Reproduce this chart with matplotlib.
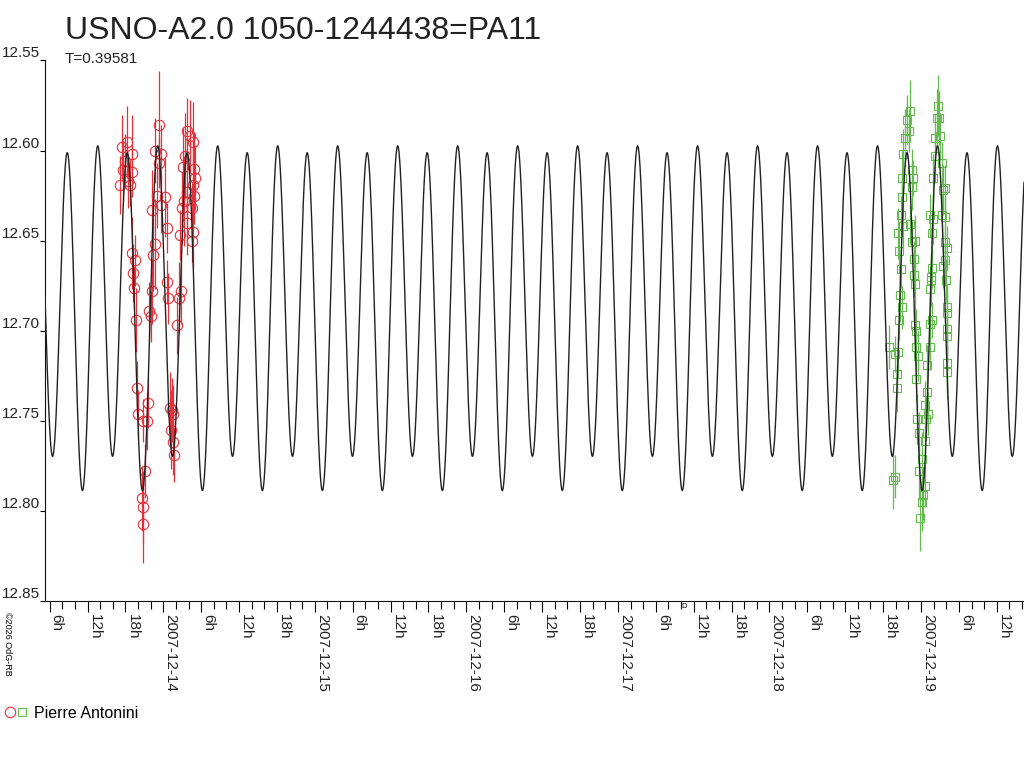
import datetime
import numpy as np
import matplotlib
matplotlib.use("Agg")
import matplotlib.pyplot as plt
import matplotlib.dates as mdates
from matplotlib.lines import Line2D
from matplotlib.legend_handler import HandlerTuple

plt.rcParams['font.family'] = ['Liberation Sans', 'DejaVu Sans']

# ---------- rotation model (Fourier fit, double-wave) ----------
PERIOD = 0.39581          # days
T_DEEP_MIN = 0.2585       # days after 2007-12-14 00:00 UT, deeper minimum
MAG_MEAN = 12.6893
AMP_H2 = 0.0899
AMP_H1_COS = 0.0019
AMP_H1_SIN = 0.0095

# ---------- observations, Pierre Antonini ----------
# night 1 : hours after 2007-12-13 00:00 UT
red_hours = [17.41, 18.20, 17.93, 17.66, 19.00, 17.14, 18.73, 19.09, 18.46,
             19.00, 19.52, 19.25, 19.36, 19.68, 19.88, 20.04, 21.37, 21.62, 20.74, 21.10, 20.58, 20.74, 20.74,
             21.78, 22.00, 22.16, 22.42, 22.69, 22.16, 22.69, 23.37, 23.59, 23.37, 23.05, 24.27, 23.64, 24.54,
             24.54, 24.79, 25.06, 25.33, 25.58, 25.17, 25.49, 25.69,
             26.22, 26.53, 26.76, 26.65, 26.91, 27.28, 27.07, 27.44, 27.80, 28.23,
             28.75, 28.86, 29.02, 28.75, 28.91, 28.50, 28.75, 28.50, 27.80, 27.80]
red_mag = [12.598, 12.595, 12.606, 12.611, 12.612, 12.619, 12.619, 12.602, 12.617,
           12.657, 12.661, 12.668, 12.676, 12.694, 12.732, 12.746, 12.750, 12.740, 12.750, 12.778, 12.793, 12.798, 12.807,
           12.689, 12.692, 12.678, 12.658, 12.652, 12.633, 12.600, 12.586, 12.602, 12.607, 12.625, 12.626, 12.630, 12.643,
           12.673, 12.682, 12.743, 12.744, 12.746, 12.755, 12.762, 12.769,
           12.697, 12.682, 12.678, 12.647, 12.632, 12.628, 12.609, 12.603, 12.589, 12.592,
           12.595, 12.610, 12.615, 12.619, 12.625, 12.632, 12.645, 12.650, 12.640, 12.623]
red_err = [0.018, 0.020, 0.015, 0.017, 0.014, 0.016, 0.012, 0.022, 0.015,
           0.020, 0.014, 0.016, 0.012, 0.018, 0.015, 0.013, 0.016, 0.014, 0.012, 0.015, 0.018, 0.020, 0.022,
           0.016, 0.014, 0.018, 0.020, 0.025, 0.022, 0.018, 0.030, 0.016, 0.014, 0.018, 0.022, 0.016, 0.014,
           0.012, 0.014, 0.020, 0.018, 0.016, 0.022, 0.018, 0.015,
           0.016, 0.020, 0.018, 0.014, 0.020, 0.025, 0.022, 0.024, 0.018, 0.020,
           0.022, 0.020, 0.018, 0.025, 0.016, 0.014, 0.020, 0.012, 0.018, 0.020]

# night 2 : hours after 2007-12-18 00:00 UT
green_hours = [18.98, 19.88, 20.41, 19.61, 19.88, 20.15, 20.25, 20.56, 20.67, 20.94,
               20.79, 20.56, 20.41, 20.79, 21.20, 20.94, 20.94, 21.10, 21.47, 22.15,
               22.26, 21.74, 22.53, 22.78, 22.53, 22.26, 22.53, 23.05, 22.89, 22.89,
               23.05, 23.05, 23.21, 23.21, 23.57, 23.21, 24.90, 24.63, 24.79, 23.42,
               23.73, 24.63, 24.11, 23.73, 24.63, 24.37, 24.11, 23.84, 25.16, 24.90,
               25.43, 25.43, 25.70, 25.54, 25.54, 25.70, 25.43, 25.70, 25.85, 25.43,
               25.85, 26.22, 26.22, 26.49, 26.74, 27.01, 26.90, 27.28, 27.44, 27.28,
               27.80, 27.80, 28.17, 27.80, 27.96, 28.17, 28.17, 28.17, 28.17, 28.17,
               28.17, 27.53, 27.80]
green_mag = [12.709, 12.713, 12.712, 12.783, 12.781, 12.724, 12.732, 12.694, 12.680, 12.687,
             12.666, 12.656, 12.646, 12.636, 12.642, 12.626, 12.615, 12.602, 12.593, 12.589,
             12.578, 12.583, 12.611, 12.615, 12.620, 12.641, 12.651, 12.650, 12.660, 12.669,
             12.674, 12.697, 12.700, 12.709, 12.714, 12.727, 12.734, 12.741, 12.749, 12.749,
             12.757, 12.761, 12.771, 12.778, 12.786, 12.791, 12.795, 12.804, 12.746, 12.719,
             12.709, 12.696, 12.694, 12.672, 12.670, 12.665, 12.677, 12.646, 12.638, 12.636,
             12.615, 12.603, 12.593, 12.582, 12.575, 12.592, 12.582, 12.607, 12.622, 12.636,
             12.637, 12.651, 12.654, 12.661, 12.672, 12.687, 12.690, 12.699, 12.703, 12.718,
             12.723, 12.664, 12.621]
green_err = [0.012, 0.010, 0.014, 0.016, 0.012, 0.010, 0.013, 0.011, 0.015, 0.012,
             0.010, 0.012, 0.014, 0.011, 0.013, 0.012, 0.015, 0.014, 0.016, 0.012,
             0.017, 0.014, 0.012, 0.010, 0.013, 0.011, 0.012, 0.014, 0.010, 0.012,
             0.011, 0.013, 0.012, 0.010, 0.014, 0.012, 0.011, 0.013, 0.012, 0.014,
             0.012, 0.010, 0.015, 0.013, 0.012, 0.014, 0.016, 0.018, 0.012, 0.011,
             0.013, 0.012, 0.010, 0.014, 0.012, 0.011, 0.013, 0.012, 0.014, 0.012,
             0.013, 0.015, 0.014, 0.016, 0.017, 0.013, 0.015, 0.012, 0.014, 0.012,
             0.011, 0.013, 0.012, 0.014, 0.012, 0.013, 0.011, 0.012, 0.014, 0.016,
             0.015, 0.012, 0.013]

y_ticks = [12.55, 12.60, 12.65, 12.70, 12.75, 12.80, 12.85]

T_REF = datetime.datetime(2007, 12, 14)
X_START = -0.7806   # days from T_REF
X_END = 5.6797

RED = '#e6303a'
GREEN = '#63bb50'
CURVE = '#222222'

ref_num = mdates.date2num(T_REF)
red_t = mdates.date2num(datetime.datetime(2007, 12, 13)) + np.array(red_hours) / 24.0
green_t = mdates.date2num(datetime.datetime(2007, 12, 18)) + np.array(green_hours) / 24.0

fig = plt.figure(figsize=(10.24, 7.68), dpi=100)
ax = fig.add_axes([45 / 1024, 1 - 601 / 768, 979 / 1024, 540.5 / 768])

ax.errorbar(red_t, red_mag, yerr=red_err, fmt='o', ms=7.5, mfc='none', mec=RED, mew=0.8,
            ecolor=RED, elinewidth=0.9, capsize=0, zorder=2)
ax.errorbar(green_t, green_mag, yerr=green_err, fmt='s', ms=5.5, mfc='none', mec=GREEN, mew=0.8,
            ecolor=GREEN, elinewidth=0.9, capsize=0, zorder=2)

# model curve
tt = np.linspace(X_START, X_END, 6000)
phi = 2 * np.pi * (tt - T_DEEP_MIN) / PERIOD + np.pi / 2
model = MAG_MEAN - AMP_H2 * np.cos(2 * phi) + AMP_H1_COS * np.cos(phi) + AMP_H1_SIN * np.sin(phi)
ax.plot(ref_num + tt, model, color=CURVE, lw=1.0, zorder=3)

ax.set_xlim(ref_num + X_START, ref_num + X_END)
ax.set_ylim(12.85, 12.55)

for s in ['top', 'right']:
    ax.spines[s].set_visible(False)
for s in ['left', 'bottom']:
    ax.spines[s].set_linewidth(0.8)
    ax.spines[s].set_color('#111111')

ax.set_yticks(y_ticks, ['%.2f' % v for v in y_ticks])
ax.tick_params(axis='y', direction='out', length=3.6, width=0.8, pad=0, labelsize=11)
plt.setp(ax.get_yticklabels(), va='bottom', color='#222222')

major = mdates.HourLocator(byhour=[0, 6, 12, 18])
major_t = [v for v in major.tick_values(mdates.num2date(ref_num + X_START), mdates.num2date(ref_num + X_END))
           if ref_num + X_START <= v <= ref_num + X_END]
labels = []
for v in major_t:
    d = mdates.num2date(v)
    labels.append(d.strftime('%Y-%m-%d') if d.hour == 0 else '%dh' % d.hour)
ax.set_xticks(major_t, labels)
ax.xaxis.set_minor_locator(mdates.HourLocator(byhour=range(0, 24, 2)))
ax.tick_params(axis='x', which='major', direction='out', length=8, width=0.8, pad=1.5, labelsize=11)
ax.tick_params(axis='x', which='minor', direction='out', length=5.5, width=0.8)
plt.setp(ax.get_xticklabels(), rotation=270, ha='left', va='top', color='#222222')

fig.text(65 / 1024, 1 - 39 / 768, 'USNO-A2.0 1050-1244438=PA11', fontsize=23, ha='left', va='baseline',
         color='#222222')
fig.text(65 / 1024, 1 - 63 / 768, 'T=0.39581', fontsize=11, ha='left', va='baseline', color='#222222')
fig.text(3 / 1024, 1 - 612 / 768, '©2026 OdG-RB', fontsize=6.5, rotation=270, ha='left', va='top')
fig.text(684 / 1024, 1 - 607 / 768, 'D', fontsize=5.5, ha='center', va='center')

h_red = Line2D([], [], ls='none', marker='o', ms=7.5, mfc='none', mec=RED, mew=0.8)
h_green = Line2D([], [], ls='none', marker='s', ms=5.5, mfc='none', mec=GREEN, mew=0.8)
fig.legend(handles=[(h_red, h_green)], labels=['Pierre Antonini'],
           handler_map={tuple: HandlerTuple(ndivide=None, pad=0.2)},
           loc='center left', bbox_to_anchor=(0.0, 1 - 713 / 768), frameon=False, fontsize=11.5,
           handlelength=1.4, handletextpad=0.4, borderpad=0, borderaxespad=0.3)

fig.savefig('out.png', dpi=100)
